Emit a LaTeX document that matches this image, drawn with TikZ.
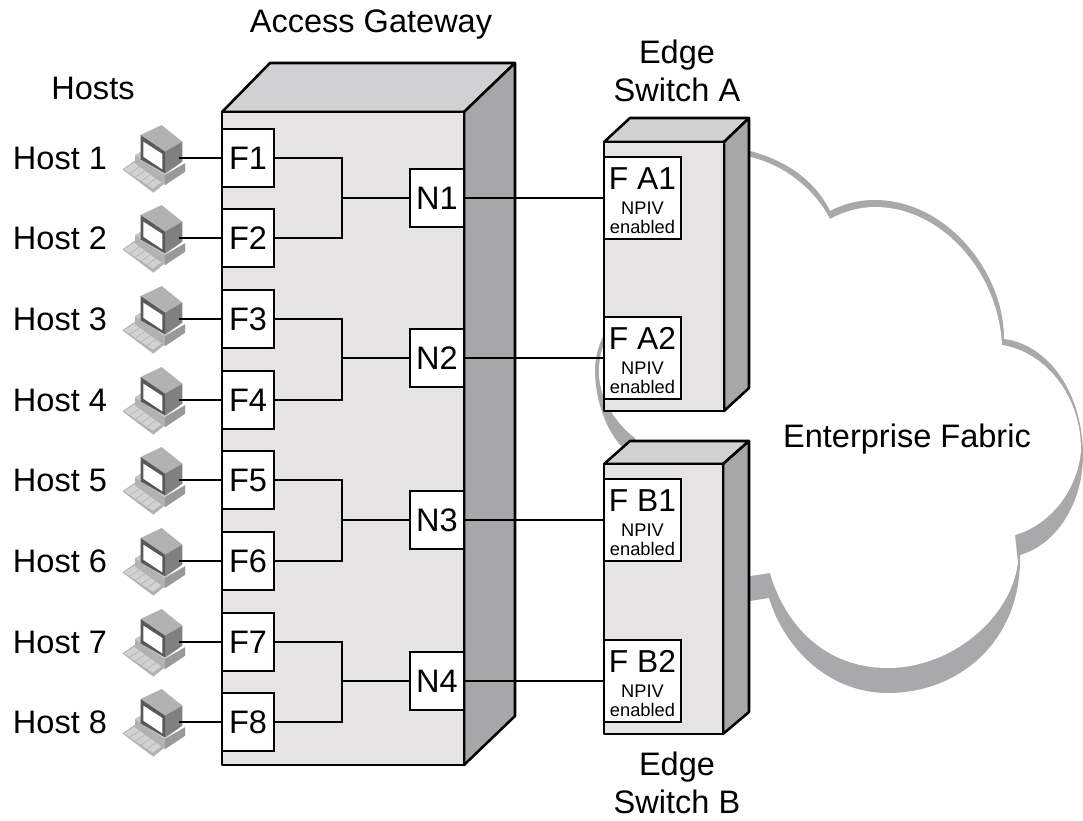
\documentclass[tikz,border=0pt]{standalone}
\usepackage{fontspec}
\setmainfont{Liberation Sans}
\definecolor{frontgray}{HTML}{E5E3E4}
\definecolor{topgray}{HTML}{D1D1D3}
\definecolor{sidegray}{HTML}{A7A6A8}
\definecolor{cloudgray}{HTML}{A9A9AB}
\newcommand{\bigsize}{\fontsize{24.4}{28}\selectfont}
\newcommand{\portname}[1]{{\fontsize{23.8}{28}\selectfont\rule{0pt}{20.7pt}#1}}
\tikzset{
  every node/.style={inner sep=0pt,outer sep=0pt},
  big/.style={font=\bigsize,align=center},
  edge/.style={draw=black,line width=1.9pt,line join=round},
  wire/.style={draw=black,line width=1.5pt},
  fport/.style={draw=black,fill=white,line width=1.7pt,minimum width=39pt,minimum height=43.5pt,font=\bigsize},
  nport/.style={draw=black,fill=white,line width=1.7pt,minimum width=40.5pt,minimum height=43.5pt,font=\bigsize},
  swport/.style={draw=black,fill=white,line width=1.7pt,minimum width=57.5pt,minimum height=61pt,align=center,font=\fontsize{13.7}{14.25}\selectfont},
  computer/.pic={
    \begin{scope}[scale=1/3,line join=round]
      % keyboard
      \fill[gray!60] (67,178) -- (108,150) -- (205,212) -- (160,248) -- cycle;
      \fill[gray!35] (72,178) -- (108,155) -- (192,212) -- (158,236) -- cycle;
      \foreach \t in {0.2,0.4,0.6,0.8}
        \draw[gray!70,line width=.3pt] ($(72,178)!\t!(158,236)$) -- ($(108,155)!\t!(192,212)$);
      % base unit
      \fill[gray!60] (105,135) -- (195,195) -- (255,160) -- (255,185) -- (195,225) -- (105,160) -- cycle;
      \fill[gray!45] (105,135) -- (122,125) -- (240,160) -- (195,195) -- cycle;
      \fill[gray!80] (195,195) -- (255,160) -- (255,185) -- (195,225) -- cycle;
      % monitor
      \fill[gray!60] (122,75) -- (185,45) -- (247,95) -- (195,125) -- cycle;
      \fill[gray] (195,125) -- (247,95) -- (247,155) -- (195,190) -- cycle;
      \fill[black!65] (122,75) -- (195,125) -- (195,190) -- (122,148) -- cycle;
      \fill[white] (130,95) -- (187,132) -- (187,178) -- (130,140) -- cycle;
    \end{scope}
  },
}
\usetikzlibrary{calc}
\begin{document}
\begin{tikzpicture}[x=.75pt,y=-.75pt]
\useasboundingbox (0,0) rectangle (1083,821);
% cloud
\fill[cloudgray] (700,140) -- (750,151)
  .. controls (785,160) and (815,180) .. (830,211)
  .. controls (843,204) and (858,200) .. (875,200)
  .. controls (945,200) and (1004,270) .. (1004,339)
  .. controls (1050,345) and (1083,395) .. (1083,455)
  .. controls (1083,505) and (1055,545) .. (1020,555)
  .. controls (1022,640) and (960,693) .. (888,693)
  .. controls (830,693) and (785,650) .. (769,598)
  -- (750,601) -- (700,600) -- (630,450) -- (622,447)
  .. controls (606,430) and (595,400) .. (595,370)
  .. controls (595,358) and (598,347) .. (603,337)
  -- (650,300) -- cycle;
\fill[white] (700,150) -- (750,157)
  .. controls (785,165) and (815,190) .. (830,219)
  .. controls (845,211) and (860,207) .. (875,207)
  .. controls (940,207) and (998,270) .. (1002,345)
  .. controls (1045,352) and (1081,395) .. (1081,450)
  .. controls (1078,490) and (1050,525) .. (1015,535)
  -- (1018,563)
  .. controls (1010,620) and (950,668) .. (888,668)
  .. controls (825,668) and (785,625) .. (770,573)
  -- (750,576) -- (700,580) -- (635,438)
  .. controls (618,425) and (599,400) .. (599,373)
  .. controls (599,362) and (600,353) .. (604,345)
  -- (650,300) -- cycle;
\node[big] (fabric) at (907,439) {Enterprise Fabric};
% access gateway
\filldraw[edge,fill=topgray] (222,112) -- (270,63) -- (515,63) -- (464,112) -- cycle;
\filldraw[edge,fill=sidegray] (464,112) -- (515,63) -- (515,716) -- (464,765) -- cycle;
\filldraw[edge,fill=frontgray] (222,112) rectangle (464,765);
% edge switches
\filldraw[edge,fill=topgray] (604,142) -- (630,118) -- (749,118) -- (724,142) -- cycle;
\filldraw[edge,fill=sidegray] (724,142) -- (749,118) -- (749,388) -- (724,411) -- cycle;
\filldraw[edge,fill=frontgray] (604,142) rectangle (724,411);
\filldraw[edge,fill=topgray] (604,464) -- (630,441) -- (749,441) -- (723,464) -- cycle;
\filldraw[edge,fill=sidegray] (723,464) -- (749,441) -- (749,712) -- (723,734) -- cycle;
\filldraw[edge,fill=frontgray] (604,464) rectangle (723,734);
% titles
\node[big] (agtitle) at (371,25) {Access Gateway};
\node[big] (hoststitle) at (93,88) {Hosts};
\node[big] (satitle) at (677,71) {Edge\\Switch A};
\node[big] (sbtitle) at (677,783) {Edge\\Switch B};
% hosts and F ports
\foreach \i/\y in {1/158,2/238,3/319,4/400,5/480,6/561,7/642,8/722}{
  \pic at (100,\y-48) {computer};
  \coordinate (h\i) at (179,\y);
  \node[big] (hl\i) at (60,\y) {Host \i};
  \node[fport] (f\i) at (248,\y) {F\i};
  \draw[wire] (h\i) -- (f\i.west);
}
% N ports
\node[nport] (n1) at (437,198) {N1};
\node[nport] (n2) at (437,358) {N2};
\node[nport] (n3) at (437,520) {N3};
\node[nport] (n4) at (437,681) {N4};
% switch ports
\node[swport] (fa1) at (642.5,198) {\portname{F A1}\\[4.5pt]NPIV\\enabled};
\node[swport] (fa2) at (642.5,358) {\portname{F A2}\\[4.5pt]NPIV\\enabled};
\node[swport] (fb1) at (642.5,520) {\portname{F B1}\\[4.5pt]NPIV\\enabled};
\node[swport] (fb2) at (642.5,681) {\portname{F B2}\\[4.5pt]NPIV\\enabled};
% brackets
\coordinate (j1) at (342,198);
\coordinate (j2) at (342,358);
\coordinate (j3) at (342,520);
\coordinate (j4) at (342,681);
\draw[wire] (f1.east) -| (j1) |- (f2.east);
\draw[wire] (f3.east) -| (j2) |- (f4.east);
\draw[wire] (f5.east) -| (j3) |- (f6.east);
\draw[wire] (f7.east) -| (j4) |- (f8.east);
\draw[wire] (j1) -- (n1.west);
\draw[wire] (j2) -- (n2.west);
\draw[wire] (j3) -- (n3.west);
\draw[wire] (j4) -- (n4.west);
\draw[wire] (n1.east) -- (fa1.west);
\draw[wire] (n2.east) -- (fa2.west);
\draw[wire] (n3.east) -- (fb1.west);
\draw[wire] (n4.east) -- (fb2.west);
\end{tikzpicture}
\end{document}
